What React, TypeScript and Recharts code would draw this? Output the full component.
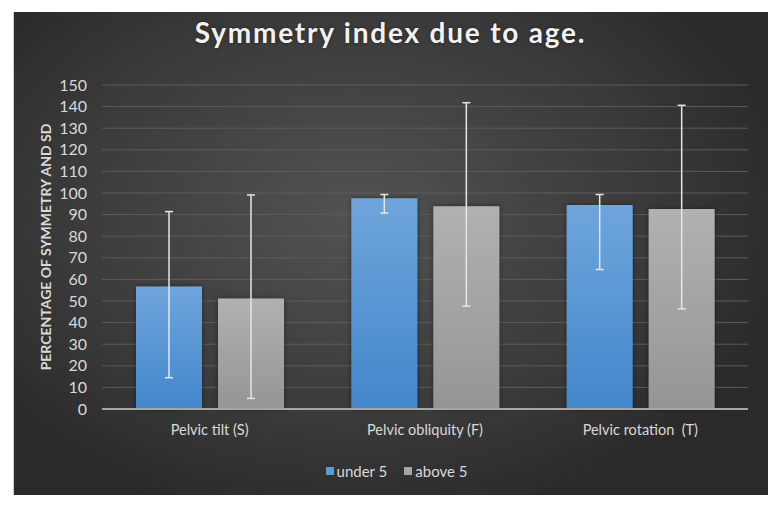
import React from "react";
import { BarChart, Bar, XAxis, YAxis, CartesianGrid, ErrorBar } from "recharts";

const categories = ["Pelvic tilt (S)", "Pelvic obliquity (F)", "Pelvic rotation  (T)"];
const under5 = [56.7, 97.6, 94.4];
const above5 = [51.2, 93.9, 92.6];
const under5ErrLow = [42.2, 6.9, 29.8];
const under5ErrHigh = [34.7, 1.7, 4.9];
const above5ErrLow = [46.3, 46.3, 46.2];
const above5ErrHigh = [47.9, 47.9, 48.0];
const yTicks = [0, 10, 20, 30, 40, 50, 60, 70, 80, 90, 100, 110, 120, 130, 140, 150];
const seriesNames = ["under 5", "above 5"];

const data = categories.map((c, i) => ({
  name: c,
  under5: under5[i],
  above5: above5[i],
  errU: [under5ErrLow[i], under5ErrHigh[i]],
  errA: [above5ErrLow[i], above5ErrHigh[i]],
}));

const FONT = "Lato, 'Open Sans', sans-serif";
const TXT = "#d9d9d9";

export default function App() {
  return (
    <div style={{ position: "absolute", left: 0, top: 0, width: 781, height: 508, background: "#ffffff" }}>
      <div
        style={{
          position: "absolute",
          left: 13,
          top: 12,
          width: 755,
          height: 483,
          background: "radial-gradient(ellipse 60% 65% at 45% 42%, #525252 0%, #3c3c3c 60%, #2a2a2a 100%)",
          borderLeft: "1px solid #d0d0d0",
          boxSizing: "border-box",
        }}
      />
      <div
        style={{
          position: "absolute",
          left: 0,
          top: 15,
          width: 781,
          textAlign: "center",
          fontFamily: FONT,
          fontWeight: 700,
          fontSize: 28,
          letterSpacing: 1.8,
          color: "#f2f2f2",
          textShadow: "0 0 3px rgba(0,0,0,0.5)",
        }}
      >
        Symmetry index due to age.
      </div>
      <div style={{ position: "absolute", left: 0, top: 0 }}>
        <BarChart
          width={781}
          height={508}
          data={data}
          margin={{ top: 85, right: 33, bottom: 69, left: 40 }}
          barCategoryGap={34}
          barGap={16}
        >
          <defs>
            <linearGradient id="gBlue" x1="0" y1="0" x2="0" y2="1">
              <stop offset="0%" stopColor="#6fa5dc" />
              <stop offset="100%" stopColor="#4287cb" />
            </linearGradient>
            <linearGradient id="gGrey" x1="0" y1="0" x2="0" y2="1">
              <stop offset="0%" stopColor="#b1b1b1" />
              <stop offset="100%" stopColor="#959595" />
            </linearGradient>
            <filter id="shadow" x="-20%" y="-10%" width="140%" height="120%">
              <feDropShadow dx="0" dy="0" stdDeviation="2.5" floodColor="#000" floodOpacity="0.45" />
            </filter>
          </defs>
          <CartesianGrid vertical={false} stroke="#5c5c5c" strokeWidth={1} />
          <XAxis
            dataKey="name"
            axisLine={{ stroke: "#a6a6a6", strokeWidth: 2 }}
            tickLine={false}
            tickMargin={10}
            height={30}
            tickFormatter={(v: string) => v.replace(/  /g, " \u00a0")}
            tick={{ fill: TXT, fontSize: 14.5, fontFamily: FONT }}
          />
          <YAxis
            domain={[0, 150]}
            ticks={yTicks}
            interval={0}
            width={62}
            axisLine={false}
            tickLine={false}
            tickMargin={9}
            tick={{ fill: TXT, fontSize: 16, fontFamily: FONT }}
            label={{
              value: "PERCENTAGE OF SYMMETRY AND SD",
              angle: -90,
              position: "insideLeft",
              offset: 6,
              style: { textAnchor: "middle", fill: TXT, fontSize: 14, fontWeight: 700, fontFamily: FONT },
            }}
          />
          <Bar dataKey="under5" name={seriesNames[0]} fill="url(#gBlue)" isAnimationActive={false} filter="url(#shadow)">
            <ErrorBar dataKey="errU" width={4} stroke="#e6e6e6" strokeWidth={1.5} />
          </Bar>
          <Bar dataKey="above5" name={seriesNames[1]} fill="url(#gGrey)" isAnimationActive={false} filter="url(#shadow)">
            <ErrorBar dataKey="errA" width={4} stroke="#e6e6e6" strokeWidth={1.5} />
          </Bar>
        </BarChart>
      </div>
      <div
        style={{
          position: "absolute",
          left: 0,
          top: 462,
          width: 781,
          display: "flex",
          justifyContent: "center",
          alignItems: "center",
          fontFamily: FONT,
          fontSize: 15,
          color: TXT,
          paddingLeft: 12,
          boxSizing: "border-box",
        }}
      >
        <span style={{ display: "inline-block", width: 8, height: 8, background: "#5b9bd5", marginRight: 3 }} />
        <span style={{ marginRight: 17 }}>{seriesNames[0]}</span>
        <span style={{ display: "inline-block", width: 8, height: 8, background: "#a5a5a5", marginRight: 3 }} />
        <span>{seriesNames[1]}</span>
      </div>
    </div>
  );
}
